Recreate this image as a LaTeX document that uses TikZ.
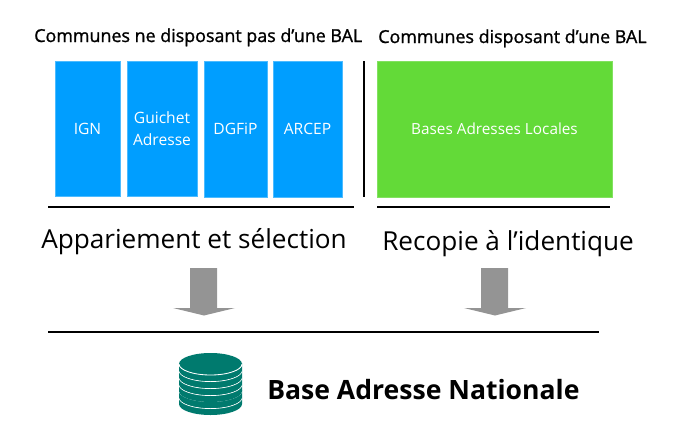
\documentclass[tikz,border=0pt]{standalone}
\usepackage{fontspec}
\setmainfont{Open Sans}
\newfontfamily\titlefont[FakeBold=1.2]{Open Sans}
\usetikzlibrary{positioning}
\definecolor{blue1}{RGB}{0,158,255}
\definecolor{green1}{RGB}{99,218,56}
\definecolor{gray1}{RGB}{148,148,148}
\definecolor{teal1}{RGB}{0,122,110}
\tikzset{
    source/.style = {rectangle, draw=blue1!70!white, line width=0.4pt, fill=blue1, text=white, align=center, inner sep=0pt, font=\fontsize{11.1}{15.6}\selectfont},
    local/.style = {rectangle, draw=green1!80!white, line width=0.4pt, fill=green1, text=white, align=center, inner sep=0pt, font=\fontsize{10.9}{14}\selectfont},
    title/.style = {anchor=base west, inner sep=0pt, font=\fontsize{12.7}{14}\titlefont},
    stage/.style = {anchor=base west, inner sep=0pt, font=\fontsize{18.6}{20}\selectfont},
    rule/.style = {line width=1.45pt, black},
    down/.style = {fill=gray1},
    layer/.style = {fill=teal1},
    seam/.style = {draw=white, line width=0.6pt}
}
\begin{document}
\begin{tikzpicture}[x=0.025cm,y=-0.025cm]
\useasboundingbox (0,0) rectangle (697,442);
\node[title] at (34, 42) (ttl) {Communes ne disposant pas d’une BAL};
\node[title] at (378, 43) (ttr) {Communes disposant d’une BAL};
%
\node[source, minimum width=65*0.025cm, minimum height=135*0.025cm] at (87.5, 128.5) (ign) {IGN};
\node[source, minimum width=70*0.025cm, minimum height=135*0.025cm] at (162, 128.5) (guichet) {Guichet\\Adresse};
\node[source, minimum width=63*0.025cm, minimum height=136*0.025cm] at (235.5, 129) (dgfip) {DGFiP};
\node[source, minimum width=69*0.025cm, minimum height=136*0.025cm] at (307.5, 129) (arcep) {ARCEP};
\node[local, minimum width=235*0.025cm, minimum height=136*0.025cm] at (494.5, 129) (bal) {Bases Adresses Locales};
%
\draw[rule] (364, 61) -- (364, 197);
\draw[rule] (48, 207) -- (354, 207);
\draw[rule] (377, 207) -- (610, 207);
\draw[rule] (48, 332) -- (599, 332);
%
\node[stage] at (41, 248) (appar) {Appariement et sélection};
\node[stage] at (382, 250) (recop) {Recopie à l’identique};
%
\foreach \x in {204, 495} {
  \fill[down] (\x-14, 268) -- (\x+13, 268) -- (\x+13, 308) -- (\x+31, 308)
    -- (\x, 315.5) -- (\x-31, 308) -- (\x-14, 308) -- cycle;
}
%
\foreach \y in {404, 397, 391, 384, 377, 370} {
  \fill[layer] (179, \y-7) -- (179, \y) arc[start angle=180, end angle=0, x radius=31.5, y radius=11]
    -- (242, \y-7) -- cycle;
  \draw[seam] (179, \y-6.5) arc[start angle=180, end angle=0, x radius=31.5, y radius=11];
}
\fill[layer] (210.5, 364) ellipse[x radius=31.5, y radius=11];
\draw[seam] (179, 364) arc[start angle=180, end angle=0, x radius=31.5, y radius=11];
%
\node[anchor=base west, inner sep=0pt, font=\fontsize{18.9}{20}\selectfont\bfseries] at (267, 399) (ban) {Base Adresse Nationale};
\end{tikzpicture}
\end{document}
